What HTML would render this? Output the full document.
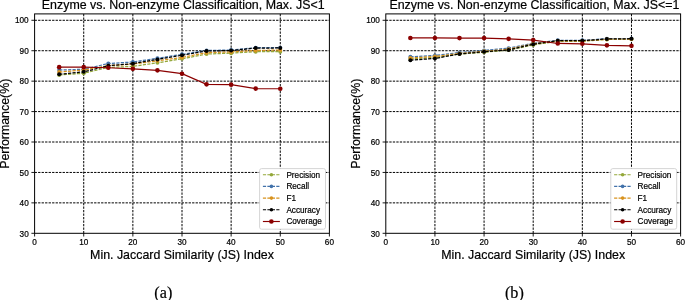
<!DOCTYPE html>
<html><head><meta charset="utf-8"><title>Enzyme vs. Non-enzyme Classification</title>
<style>html,body{margin:0;padding:0;background:#fff;width:685px;height:300px;overflow:hidden;}svg{display:block;will-change:transform;}text{-webkit-font-smoothing:antialiased;}</style>
</head><body>
<svg width="685" height="300" viewBox="0 0 685 300" font-family="'Liberation Sans', sans-serif" fill="#000"><style>text{stroke:#000;stroke-width:0.2px;}</style><rect width="685" height="300" fill="#fff"/><line x1="83.73" y1="233.30" x2="83.73" y2="13.90" stroke="#000" stroke-width="1.0" stroke-dasharray="2.33 1.17"/>
<line x1="132.87" y1="233.30" x2="132.87" y2="13.90" stroke="#000" stroke-width="1.0" stroke-dasharray="2.33 1.17"/>
<line x1="182.00" y1="233.30" x2="182.00" y2="13.90" stroke="#000" stroke-width="1.0" stroke-dasharray="2.33 1.17"/>
<line x1="231.13" y1="233.30" x2="231.13" y2="13.90" stroke="#000" stroke-width="1.0" stroke-dasharray="2.33 1.17"/>
<line x1="280.27" y1="233.30" x2="280.27" y2="13.90" stroke="#000" stroke-width="1.0" stroke-dasharray="2.33 1.17"/>
<line x1="34.60" y1="202.87" x2="329.40" y2="202.87" stroke="#000" stroke-width="1.0" stroke-dasharray="2.33 1.17"/>
<line x1="34.60" y1="172.44" x2="329.40" y2="172.44" stroke="#000" stroke-width="1.0" stroke-dasharray="2.33 1.17"/>
<line x1="34.60" y1="142.01" x2="329.40" y2="142.01" stroke="#000" stroke-width="1.0" stroke-dasharray="2.33 1.17"/>
<line x1="34.60" y1="111.58" x2="329.40" y2="111.58" stroke="#000" stroke-width="1.0" stroke-dasharray="2.33 1.17"/>
<line x1="34.60" y1="81.15" x2="329.40" y2="81.15" stroke="#000" stroke-width="1.0" stroke-dasharray="2.33 1.17"/>
<line x1="34.60" y1="50.72" x2="329.40" y2="50.72" stroke="#000" stroke-width="1.0" stroke-dasharray="2.33 1.17"/>
<line x1="34.60" y1="20.29" x2="329.40" y2="20.29" stroke="#000" stroke-width="1.0" stroke-dasharray="2.33 1.17"/>
<polyline points="59.17,75.06 83.73,73.24 108.30,67.45 132.87,66.39 157.43,62.74 182.00,58.84 206.57,54.06 231.13,53.15 255.70,51.63 280.27,51.63" fill="none" stroke="#94a83a" stroke-width="1.25" stroke-dasharray="3.2 1.25"/>
<circle cx="59.17" cy="75.06" r="2.0" fill="#94a83a"/>
<circle cx="83.73" cy="73.24" r="2.0" fill="#94a83a"/>
<circle cx="108.30" cy="67.45" r="2.0" fill="#94a83a"/>
<circle cx="132.87" cy="66.39" r="2.0" fill="#94a83a"/>
<circle cx="157.43" cy="62.74" r="2.0" fill="#94a83a"/>
<circle cx="182.00" cy="58.84" r="2.0" fill="#94a83a"/>
<circle cx="206.57" cy="54.06" r="2.0" fill="#94a83a"/>
<circle cx="231.13" cy="53.15" r="2.0" fill="#94a83a"/>
<circle cx="255.70" cy="51.63" r="2.0" fill="#94a83a"/>
<circle cx="280.27" cy="51.63" r="2.0" fill="#94a83a"/>
<polyline points="59.17,70.04 83.73,69.28 108.30,63.50 132.87,61.98 157.43,58.32 182.00,54.37 206.57,50.41 231.13,50.11 255.70,47.67 280.27,47.67" fill="none" stroke="#4272aa" stroke-width="1.25" stroke-dasharray="3.2 1.25"/>
<circle cx="59.17" cy="70.04" r="2.0" fill="#4272aa"/>
<circle cx="83.73" cy="69.28" r="2.0" fill="#4272aa"/>
<circle cx="108.30" cy="63.50" r="2.0" fill="#4272aa"/>
<circle cx="132.87" cy="61.98" r="2.0" fill="#4272aa"/>
<circle cx="157.43" cy="58.32" r="2.0" fill="#4272aa"/>
<circle cx="182.00" cy="54.37" r="2.0" fill="#4272aa"/>
<circle cx="206.57" cy="50.41" r="2.0" fill="#4272aa"/>
<circle cx="231.13" cy="50.11" r="2.0" fill="#4272aa"/>
<circle cx="255.70" cy="47.67" r="2.0" fill="#4272aa"/>
<circle cx="280.27" cy="47.67" r="2.0" fill="#4272aa"/>
<polyline points="59.17,72.11 83.73,70.04 108.30,65.63 132.87,64.11 157.43,60.76 182.00,57.41 206.57,52.66 231.13,51.93 255.70,50.41 280.27,50.11" fill="none" stroke="#d8921e" stroke-width="1.25" stroke-dasharray="3.2 1.25"/>
<circle cx="59.17" cy="72.11" r="2.0" fill="#d8921e"/>
<circle cx="83.73" cy="70.04" r="2.0" fill="#d8921e"/>
<circle cx="108.30" cy="65.63" r="2.0" fill="#d8921e"/>
<circle cx="132.87" cy="64.11" r="2.0" fill="#d8921e"/>
<circle cx="157.43" cy="60.76" r="2.0" fill="#d8921e"/>
<circle cx="182.00" cy="57.41" r="2.0" fill="#d8921e"/>
<circle cx="206.57" cy="52.66" r="2.0" fill="#d8921e"/>
<circle cx="231.13" cy="51.93" r="2.0" fill="#d8921e"/>
<circle cx="255.70" cy="50.41" r="2.0" fill="#d8921e"/>
<circle cx="280.27" cy="50.11" r="2.0" fill="#d8921e"/>
<polyline points="59.17,74.30 83.73,71.87 108.30,65.78 132.87,63.65 157.43,59.45 182.00,55.28 206.57,51.02 231.13,50.56 255.70,48.07 280.27,47.98" fill="none" stroke="#000000" stroke-width="1.25" stroke-dasharray="3.2 1.25"/>
<circle cx="59.17" cy="74.30" r="2.0" fill="#000000"/>
<circle cx="83.73" cy="71.87" r="2.0" fill="#000000"/>
<circle cx="108.30" cy="65.78" r="2.0" fill="#000000"/>
<circle cx="132.87" cy="63.65" r="2.0" fill="#000000"/>
<circle cx="157.43" cy="59.45" r="2.0" fill="#000000"/>
<circle cx="182.00" cy="55.28" r="2.0" fill="#000000"/>
<circle cx="206.57" cy="51.02" r="2.0" fill="#000000"/>
<circle cx="231.13" cy="50.56" r="2.0" fill="#000000"/>
<circle cx="255.70" cy="48.07" r="2.0" fill="#000000"/>
<circle cx="280.27" cy="47.98" r="2.0" fill="#000000"/>
<polyline points="59.17,67.15 83.73,67.15 108.30,67.76 132.87,68.85 157.43,70.34 182.00,73.69 206.57,84.34 231.13,84.65 255.70,88.60 280.27,88.75" fill="none" stroke="#8b0000" stroke-width="1.2"/>
<circle cx="59.17" cy="67.15" r="2.3" fill="#8b0000"/>
<circle cx="83.73" cy="67.15" r="2.3" fill="#8b0000"/>
<circle cx="108.30" cy="67.76" r="2.3" fill="#8b0000"/>
<circle cx="132.87" cy="68.85" r="2.3" fill="#8b0000"/>
<circle cx="157.43" cy="70.34" r="2.3" fill="#8b0000"/>
<circle cx="182.00" cy="73.69" r="2.3" fill="#8b0000"/>
<circle cx="206.57" cy="84.34" r="2.3" fill="#8b0000"/>
<circle cx="231.13" cy="84.65" r="2.3" fill="#8b0000"/>
<circle cx="255.70" cy="88.60" r="2.3" fill="#8b0000"/>
<circle cx="280.27" cy="88.75" r="2.3" fill="#8b0000"/>
<rect x="34.60" y="13.90" width="294.80" height="219.40" fill="none" stroke="#000" stroke-width="1"/>
<line x1="34.60" y1="233.30" x2="34.60" y2="236.50" stroke="#000" stroke-width="0.9"/>
<text x="34.60" y="245.3" font-size="8.2" text-anchor="middle">0</text>
<line x1="83.73" y1="233.30" x2="83.73" y2="236.50" stroke="#000" stroke-width="0.9"/>
<text x="83.73" y="245.3" font-size="8.2" text-anchor="middle">10</text>
<line x1="132.87" y1="233.30" x2="132.87" y2="236.50" stroke="#000" stroke-width="0.9"/>
<text x="132.87" y="245.3" font-size="8.2" text-anchor="middle">20</text>
<line x1="182.00" y1="233.30" x2="182.00" y2="236.50" stroke="#000" stroke-width="0.9"/>
<text x="182.00" y="245.3" font-size="8.2" text-anchor="middle">30</text>
<line x1="231.13" y1="233.30" x2="231.13" y2="236.50" stroke="#000" stroke-width="0.9"/>
<text x="231.13" y="245.3" font-size="8.2" text-anchor="middle">40</text>
<line x1="280.27" y1="233.30" x2="280.27" y2="236.50" stroke="#000" stroke-width="0.9"/>
<text x="280.27" y="245.3" font-size="8.2" text-anchor="middle">50</text>
<line x1="329.40" y1="233.30" x2="329.40" y2="236.50" stroke="#000" stroke-width="0.9"/>
<text x="329.40" y="245.3" font-size="8.2" text-anchor="middle">60</text>
<line x1="31.40" y1="233.30" x2="34.60" y2="233.30" stroke="#000" stroke-width="0.9"/>
<text x="28.70" y="236.50" font-size="8.2" text-anchor="end">30</text>
<line x1="31.40" y1="202.87" x2="34.60" y2="202.87" stroke="#000" stroke-width="0.9"/>
<text x="28.70" y="206.07" font-size="8.2" text-anchor="end">40</text>
<line x1="31.40" y1="172.44" x2="34.60" y2="172.44" stroke="#000" stroke-width="0.9"/>
<text x="28.70" y="175.64" font-size="8.2" text-anchor="end">50</text>
<line x1="31.40" y1="142.01" x2="34.60" y2="142.01" stroke="#000" stroke-width="0.9"/>
<text x="28.70" y="145.21" font-size="8.2" text-anchor="end">60</text>
<line x1="31.40" y1="111.58" x2="34.60" y2="111.58" stroke="#000" stroke-width="0.9"/>
<text x="28.70" y="114.78" font-size="8.2" text-anchor="end">70</text>
<line x1="31.40" y1="81.15" x2="34.60" y2="81.15" stroke="#000" stroke-width="0.9"/>
<text x="28.70" y="84.35" font-size="8.2" text-anchor="end">80</text>
<line x1="31.40" y1="50.72" x2="34.60" y2="50.72" stroke="#000" stroke-width="0.9"/>
<text x="28.70" y="53.92" font-size="8.2" text-anchor="end">90</text>
<line x1="31.40" y1="20.29" x2="34.60" y2="20.29" stroke="#000" stroke-width="0.9"/>
<text x="28.70" y="23.49" font-size="8.2" text-anchor="end">100</text>
<text x="183.20" y="8.75" font-size="12.4" text-anchor="middle">Enzyme vs. Non-enzyme Classificaition, Max. JS&lt;1</text>
<text x="182.00" y="259.2" font-size="12.4" text-anchor="middle">Min. Jaccard Similarity (JS) Index</text>
<text transform="translate(8.50,123.75) rotate(-90)" font-size="12.4" text-anchor="middle">Performance(%)</text>
<rect x="259.60" y="168.60" width="65.9" height="60.6" rx="2" ry="2" fill="#fff" stroke="#d0d0d0" stroke-width="0.9"/>
<line x1="262.90" y1="174.70" x2="279.90" y2="174.70" stroke="#94a83a" stroke-width="1.1" stroke-dasharray="3.2 1.25"/>
<circle cx="271.40" cy="174.70" r="1.8" fill="#94a83a"/>
<text x="286.40" y="177.65" font-size="8.2">Precision</text>
<line x1="262.90" y1="186.40" x2="279.90" y2="186.40" stroke="#4272aa" stroke-width="1.1" stroke-dasharray="3.2 1.25"/>
<circle cx="271.40" cy="186.40" r="1.8" fill="#4272aa"/>
<text x="286.40" y="189.35" font-size="8.2">Recall</text>
<line x1="262.90" y1="198.10" x2="279.90" y2="198.10" stroke="#d8921e" stroke-width="1.1" stroke-dasharray="3.2 1.25"/>
<circle cx="271.40" cy="198.10" r="1.8" fill="#d8921e"/>
<text x="286.40" y="201.05" font-size="8.2">F1</text>
<line x1="262.90" y1="209.80" x2="279.90" y2="209.80" stroke="#000000" stroke-width="1.1" stroke-dasharray="3.2 1.25"/>
<circle cx="271.40" cy="209.80" r="1.8" fill="#000000"/>
<text x="286.40" y="212.75" font-size="8.2">Accuracy</text>
<line x1="262.90" y1="221.50" x2="279.90" y2="221.50" stroke="#8b0000" stroke-width="1.15"/>
<circle cx="271.40" cy="221.50" r="2.3" fill="#8b0000"/>
<text x="286.40" y="224.45" font-size="8.2">Coverage</text>
<text x="163.30" y="297.6" font-size="16.2" text-anchor="middle" font-family="'Liberation Serif', serif">(a)</text><line x1="434.93" y1="233.30" x2="434.93" y2="13.90" stroke="#000" stroke-width="1.0" stroke-dasharray="2.33 1.17"/>
<line x1="484.07" y1="233.30" x2="484.07" y2="13.90" stroke="#000" stroke-width="1.0" stroke-dasharray="2.33 1.17"/>
<line x1="533.20" y1="233.30" x2="533.20" y2="13.90" stroke="#000" stroke-width="1.0" stroke-dasharray="2.33 1.17"/>
<line x1="582.33" y1="233.30" x2="582.33" y2="13.90" stroke="#000" stroke-width="1.0" stroke-dasharray="2.33 1.17"/>
<line x1="631.47" y1="233.30" x2="631.47" y2="13.90" stroke="#000" stroke-width="1.0" stroke-dasharray="2.33 1.17"/>
<line x1="385.80" y1="202.87" x2="680.60" y2="202.87" stroke="#000" stroke-width="1.0" stroke-dasharray="2.33 1.17"/>
<line x1="385.80" y1="172.44" x2="680.60" y2="172.44" stroke="#000" stroke-width="1.0" stroke-dasharray="2.33 1.17"/>
<line x1="385.80" y1="142.01" x2="680.60" y2="142.01" stroke="#000" stroke-width="1.0" stroke-dasharray="2.33 1.17"/>
<line x1="385.80" y1="111.58" x2="680.60" y2="111.58" stroke="#000" stroke-width="1.0" stroke-dasharray="2.33 1.17"/>
<line x1="385.80" y1="81.15" x2="680.60" y2="81.15" stroke="#000" stroke-width="1.0" stroke-dasharray="2.33 1.17"/>
<line x1="385.80" y1="50.72" x2="680.60" y2="50.72" stroke="#000" stroke-width="1.0" stroke-dasharray="2.33 1.17"/>
<line x1="385.80" y1="20.29" x2="680.60" y2="20.29" stroke="#000" stroke-width="1.0" stroke-dasharray="2.33 1.17"/>
<polyline points="410.37,58.93 434.93,57.41 459.50,54.06 484.07,52.24 508.63,50.11 533.20,44.93 557.77,41.28 582.33,41.28 606.90,39.46 631.47,39.15" fill="none" stroke="#94a83a" stroke-width="1.25" stroke-dasharray="3.2 1.25"/>
<circle cx="410.37" cy="58.93" r="2.0" fill="#94a83a"/>
<circle cx="434.93" cy="57.41" r="2.0" fill="#94a83a"/>
<circle cx="459.50" cy="54.06" r="2.0" fill="#94a83a"/>
<circle cx="484.07" cy="52.24" r="2.0" fill="#94a83a"/>
<circle cx="508.63" cy="50.11" r="2.0" fill="#94a83a"/>
<circle cx="533.20" cy="44.93" r="2.0" fill="#94a83a"/>
<circle cx="557.77" cy="41.28" r="2.0" fill="#94a83a"/>
<circle cx="582.33" cy="41.28" r="2.0" fill="#94a83a"/>
<circle cx="606.90" cy="39.46" r="2.0" fill="#94a83a"/>
<circle cx="631.47" cy="39.15" r="2.0" fill="#94a83a"/>
<polyline points="410.37,56.80 434.93,55.43 459.50,52.54 484.07,50.41 508.63,48.13 533.20,43.26 557.77,40.37 582.33,40.37 606.90,38.70 631.47,38.54" fill="none" stroke="#4272aa" stroke-width="1.25" stroke-dasharray="3.2 1.25"/>
<circle cx="410.37" cy="56.80" r="2.0" fill="#4272aa"/>
<circle cx="434.93" cy="55.43" r="2.0" fill="#4272aa"/>
<circle cx="459.50" cy="52.54" r="2.0" fill="#4272aa"/>
<circle cx="484.07" cy="50.41" r="2.0" fill="#4272aa"/>
<circle cx="508.63" cy="48.13" r="2.0" fill="#4272aa"/>
<circle cx="533.20" cy="43.26" r="2.0" fill="#4272aa"/>
<circle cx="557.77" cy="40.37" r="2.0" fill="#4272aa"/>
<circle cx="582.33" cy="40.37" r="2.0" fill="#4272aa"/>
<circle cx="606.90" cy="38.70" r="2.0" fill="#4272aa"/>
<circle cx="631.47" cy="38.54" r="2.0" fill="#4272aa"/>
<polyline points="410.37,58.02 434.93,56.50 459.50,53.46 484.07,51.33 508.63,49.20 533.20,43.72 557.77,40.98 582.33,40.98 606.90,39.31 631.47,39.00" fill="none" stroke="#d8921e" stroke-width="1.25" stroke-dasharray="3.2 1.25"/>
<circle cx="410.37" cy="58.02" r="2.0" fill="#d8921e"/>
<circle cx="434.93" cy="56.50" r="2.0" fill="#d8921e"/>
<circle cx="459.50" cy="53.46" r="2.0" fill="#d8921e"/>
<circle cx="484.07" cy="51.33" r="2.0" fill="#d8921e"/>
<circle cx="508.63" cy="49.20" r="2.0" fill="#d8921e"/>
<circle cx="533.20" cy="43.72" r="2.0" fill="#d8921e"/>
<circle cx="557.77" cy="40.98" r="2.0" fill="#d8921e"/>
<circle cx="582.33" cy="40.98" r="2.0" fill="#d8921e"/>
<circle cx="606.90" cy="39.31" r="2.0" fill="#d8921e"/>
<circle cx="631.47" cy="39.00" r="2.0" fill="#d8921e"/>
<polyline points="410.37,60.15 434.93,58.48 459.50,53.91 484.07,51.78 508.63,49.90 533.20,44.17 557.77,40.67 582.33,40.67 606.90,39.00 631.47,38.70" fill="none" stroke="#000000" stroke-width="1.25" stroke-dasharray="3.2 1.25"/>
<circle cx="410.37" cy="60.15" r="2.0" fill="#000000"/>
<circle cx="434.93" cy="58.48" r="2.0" fill="#000000"/>
<circle cx="459.50" cy="53.91" r="2.0" fill="#000000"/>
<circle cx="484.07" cy="51.78" r="2.0" fill="#000000"/>
<circle cx="508.63" cy="49.90" r="2.0" fill="#000000"/>
<circle cx="533.20" cy="44.17" r="2.0" fill="#000000"/>
<circle cx="557.77" cy="40.67" r="2.0" fill="#000000"/>
<circle cx="582.33" cy="40.67" r="2.0" fill="#000000"/>
<circle cx="606.90" cy="39.00" r="2.0" fill="#000000"/>
<circle cx="631.47" cy="38.70" r="2.0" fill="#000000"/>
<polyline points="410.37,37.94 434.93,37.94 459.50,38.09 484.07,38.09 508.63,38.85 533.20,40.07 557.77,43.47 582.33,43.81 606.90,45.33 631.47,45.85" fill="none" stroke="#8b0000" stroke-width="1.2"/>
<circle cx="410.37" cy="37.94" r="2.3" fill="#8b0000"/>
<circle cx="434.93" cy="37.94" r="2.3" fill="#8b0000"/>
<circle cx="459.50" cy="38.09" r="2.3" fill="#8b0000"/>
<circle cx="484.07" cy="38.09" r="2.3" fill="#8b0000"/>
<circle cx="508.63" cy="38.85" r="2.3" fill="#8b0000"/>
<circle cx="533.20" cy="40.07" r="2.3" fill="#8b0000"/>
<circle cx="557.77" cy="43.47" r="2.3" fill="#8b0000"/>
<circle cx="582.33" cy="43.81" r="2.3" fill="#8b0000"/>
<circle cx="606.90" cy="45.33" r="2.3" fill="#8b0000"/>
<circle cx="631.47" cy="45.85" r="2.3" fill="#8b0000"/>
<rect x="385.80" y="13.90" width="294.80" height="219.40" fill="none" stroke="#000" stroke-width="1"/>
<line x1="385.80" y1="233.30" x2="385.80" y2="236.50" stroke="#000" stroke-width="0.9"/>
<text x="385.80" y="245.3" font-size="8.2" text-anchor="middle">0</text>
<line x1="434.93" y1="233.30" x2="434.93" y2="236.50" stroke="#000" stroke-width="0.9"/>
<text x="434.93" y="245.3" font-size="8.2" text-anchor="middle">10</text>
<line x1="484.07" y1="233.30" x2="484.07" y2="236.50" stroke="#000" stroke-width="0.9"/>
<text x="484.07" y="245.3" font-size="8.2" text-anchor="middle">20</text>
<line x1="533.20" y1="233.30" x2="533.20" y2="236.50" stroke="#000" stroke-width="0.9"/>
<text x="533.20" y="245.3" font-size="8.2" text-anchor="middle">30</text>
<line x1="582.33" y1="233.30" x2="582.33" y2="236.50" stroke="#000" stroke-width="0.9"/>
<text x="582.33" y="245.3" font-size="8.2" text-anchor="middle">40</text>
<line x1="631.47" y1="233.30" x2="631.47" y2="236.50" stroke="#000" stroke-width="0.9"/>
<text x="631.47" y="245.3" font-size="8.2" text-anchor="middle">50</text>
<line x1="680.60" y1="233.30" x2="680.60" y2="236.50" stroke="#000" stroke-width="0.9"/>
<text x="680.60" y="245.3" font-size="8.2" text-anchor="middle">60</text>
<line x1="382.60" y1="233.30" x2="385.80" y2="233.30" stroke="#000" stroke-width="0.9"/>
<text x="379.90" y="236.50" font-size="8.2" text-anchor="end">30</text>
<line x1="382.60" y1="202.87" x2="385.80" y2="202.87" stroke="#000" stroke-width="0.9"/>
<text x="379.90" y="206.07" font-size="8.2" text-anchor="end">40</text>
<line x1="382.60" y1="172.44" x2="385.80" y2="172.44" stroke="#000" stroke-width="0.9"/>
<text x="379.90" y="175.64" font-size="8.2" text-anchor="end">50</text>
<line x1="382.60" y1="142.01" x2="385.80" y2="142.01" stroke="#000" stroke-width="0.9"/>
<text x="379.90" y="145.21" font-size="8.2" text-anchor="end">60</text>
<line x1="382.60" y1="111.58" x2="385.80" y2="111.58" stroke="#000" stroke-width="0.9"/>
<text x="379.90" y="114.78" font-size="8.2" text-anchor="end">70</text>
<line x1="382.60" y1="81.15" x2="385.80" y2="81.15" stroke="#000" stroke-width="0.9"/>
<text x="379.90" y="84.35" font-size="8.2" text-anchor="end">80</text>
<line x1="382.60" y1="50.72" x2="385.80" y2="50.72" stroke="#000" stroke-width="0.9"/>
<text x="379.90" y="53.92" font-size="8.2" text-anchor="end">90</text>
<line x1="382.60" y1="20.29" x2="385.80" y2="20.29" stroke="#000" stroke-width="0.9"/>
<text x="379.90" y="23.49" font-size="8.2" text-anchor="end">100</text>
<text x="534.40" y="8.75" font-size="12.4" text-anchor="middle">Enzyme vs. Non-enzyme Classificaition, Max. JS&lt;=1</text>
<text x="533.20" y="259.2" font-size="12.4" text-anchor="middle">Min. Jaccard Similarity (JS) Index</text>
<text transform="translate(359.70,123.75) rotate(-90)" font-size="12.4" text-anchor="middle">Performance(%)</text>
<rect x="610.80" y="168.60" width="65.9" height="60.6" rx="2" ry="2" fill="#fff" stroke="#d0d0d0" stroke-width="0.9"/>
<line x1="614.10" y1="174.70" x2="631.10" y2="174.70" stroke="#94a83a" stroke-width="1.1" stroke-dasharray="3.2 1.25"/>
<circle cx="622.60" cy="174.70" r="1.8" fill="#94a83a"/>
<text x="637.60" y="177.65" font-size="8.2">Precision</text>
<line x1="614.10" y1="186.40" x2="631.10" y2="186.40" stroke="#4272aa" stroke-width="1.1" stroke-dasharray="3.2 1.25"/>
<circle cx="622.60" cy="186.40" r="1.8" fill="#4272aa"/>
<text x="637.60" y="189.35" font-size="8.2">Recall</text>
<line x1="614.10" y1="198.10" x2="631.10" y2="198.10" stroke="#d8921e" stroke-width="1.1" stroke-dasharray="3.2 1.25"/>
<circle cx="622.60" cy="198.10" r="1.8" fill="#d8921e"/>
<text x="637.60" y="201.05" font-size="8.2">F1</text>
<line x1="614.10" y1="209.80" x2="631.10" y2="209.80" stroke="#000000" stroke-width="1.1" stroke-dasharray="3.2 1.25"/>
<circle cx="622.60" cy="209.80" r="1.8" fill="#000000"/>
<text x="637.60" y="212.75" font-size="8.2">Accuracy</text>
<line x1="614.10" y1="221.50" x2="631.10" y2="221.50" stroke="#8b0000" stroke-width="1.15"/>
<circle cx="622.60" cy="221.50" r="2.3" fill="#8b0000"/>
<text x="637.60" y="224.45" font-size="8.2">Coverage</text>
<text x="514.40" y="297.6" font-size="16.2" text-anchor="middle" font-family="'Liberation Serif', serif">(b)</text></svg>
</body></html>
